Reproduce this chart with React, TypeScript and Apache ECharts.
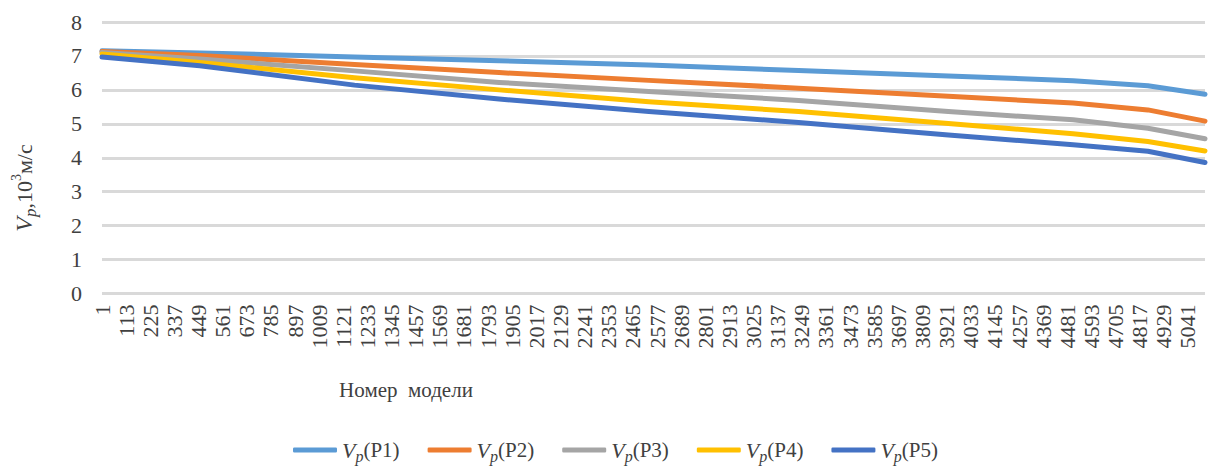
import React, { useEffect, useRef } from "react";
import * as echarts from "echarts";

const MODEL_COUNT = 5120;
const categories: string[] = Array.from({ length: MODEL_COUNT }, (_, i) => String(i + 1));

// model numbers at which the curves were read
const samplePoints = [1, 455, 1173, 1844, 2539, 3234, 3929, 4508, 4855, 5120];
const vpP1 = [7.15, 7.09, 6.97, 6.86, 6.73, 6.57, 6.41, 6.27, 6.12, 5.87];
const vpP2 = [7.13, 7.01, 6.75, 6.51, 6.28, 6.05, 5.81, 5.61, 5.41, 5.08];
const vpP3 = [7.1, 6.91, 6.56, 6.22, 5.95, 5.69, 5.36, 5.12, 4.87, 4.56];
const vpP4 = [7.06, 6.81, 6.36, 6.0, 5.65, 5.36, 5.01, 4.71, 4.48, 4.2];
const vpP5 = [6.97, 6.71, 6.14, 5.73, 5.36, 5.04, 4.67, 4.38, 4.19, 3.86];

const seriesNames = ["P1", "P2", "P3", "P4", "P5"];
const seriesValues = [vpP1, vpP2, vpP3, vpP4, vpP5];
const seriesColors = ["#5B9BD5", "#ED7D31", "#A5A5A5", "#FFC000", "#4472C4"];

const FONT = "Liberation Serif";
const TXT = "#404040";

export default function App() {
  const ref = useRef<HTMLDivElement>(null);
  useEffect(() => {
    if (!ref.current) return;
    const chart = echarts.init(ref.current, null, { renderer: "svg" });
    const series = seriesNames.map((name, k) => ({
      name,
      type: "line",
      data: samplePoints.map((m, i) => [m - 1, seriesValues[k][i]]),
      showSymbol: false,
      smooth: false,
      lineStyle: { width: 5, color: seriesColors[k], cap: "round", join: "round" },
      itemStyle: { color: seriesColors[k] },
    }));
    chart.setOption({
      animation: false,
      backgroundColor: "#ffffff",
      grid: { left: 102, right: 5, top: 22, bottom: 177.5, containLabel: false },
      xAxis: {
        type: "category",
        data: categories,
        boundaryGap: false,
        axisLine: { show: false },
        axisTick: { show: false },
        splitLine: { show: false },
        axisLabel: {
          interval: 111,
          rotate: 90,
          margin: 11,
          fontFamily: FONT,
          fontSize: 22,
          color: TXT,
        },
      },
      yAxis: {
        type: "value",
        min: 0,
        max: 8,
        interval: 1,
        axisLine: { show: false },
        axisTick: { show: false },
        axisLabel: { margin: 20, fontFamily: FONT, fontSize: 22, color: TXT },
        splitLine: { lineStyle: { color: "#d9d9d9", width: 3 } },
      },
      legend: {
        data: seriesNames,
        left: 288,
        top: 434,
        icon: "roundRect",
        itemWidth: 44,
        itemHeight: 5,
        itemGap: 28,
        formatter: (name: string) => `{v|V}{s|p}{n|(${name})}`,
        textStyle: {
          color: TXT,
          fontFamily: FONT,
          fontSize: 21,
          rich: {
            v: { fontFamily: FONT, fontSize: 22, fontStyle: "italic", color: TXT, lineHeight: 28, verticalAlign: "middle" },
            s: { fontFamily: FONT, fontSize: 16, fontStyle: "italic", color: TXT, lineHeight: 28, verticalAlign: "bottom" },
            n: { fontFamily: FONT, fontSize: 21, color: TXT, lineHeight: 28, verticalAlign: "middle" },
          },
        },
      },
      graphic: [
        {
          type: "text",
          x: 406,
          y: 390,
          style: {
            text: "Номер  модели",
            font: `21px ${FONT}`,
            fill: TXT,
            align: "center",
            verticalAlign: "middle",
          },
        },
        {
          type: "text",
          x: 24,
          y: 188,
          rotation: Math.PI / 2,
          style: {
            text: "{v|V}{s|p}{n|,10}{u|3}{n|м/с}",
            align: "center",
            verticalAlign: "middle",
            fill: TXT,
            rich: {
              v: { fontFamily: FONT, fontSize: 24, fontStyle: "italic", fill: TXT, lineHeight: 30, verticalAlign: "middle" },
              s: { fontFamily: FONT, fontSize: 17, fontStyle: "italic", fill: TXT, lineHeight: 30, verticalAlign: "bottom" },
              n: { fontFamily: FONT, fontSize: 22, fill: TXT, lineHeight: 30, verticalAlign: "middle" },
              u: { fontFamily: FONT, fontSize: 14, fill: TXT, lineHeight: 30, verticalAlign: "top" },
            },
          },
        },
      ],
      series,
    });
    return () => chart.dispose();
  }, []);
  return (
    <div
      ref={ref}
      style={{ position: "fixed", left: 0, top: 0, width: 1210, height: 471, background: "#fff" }}
    />
  );
}
